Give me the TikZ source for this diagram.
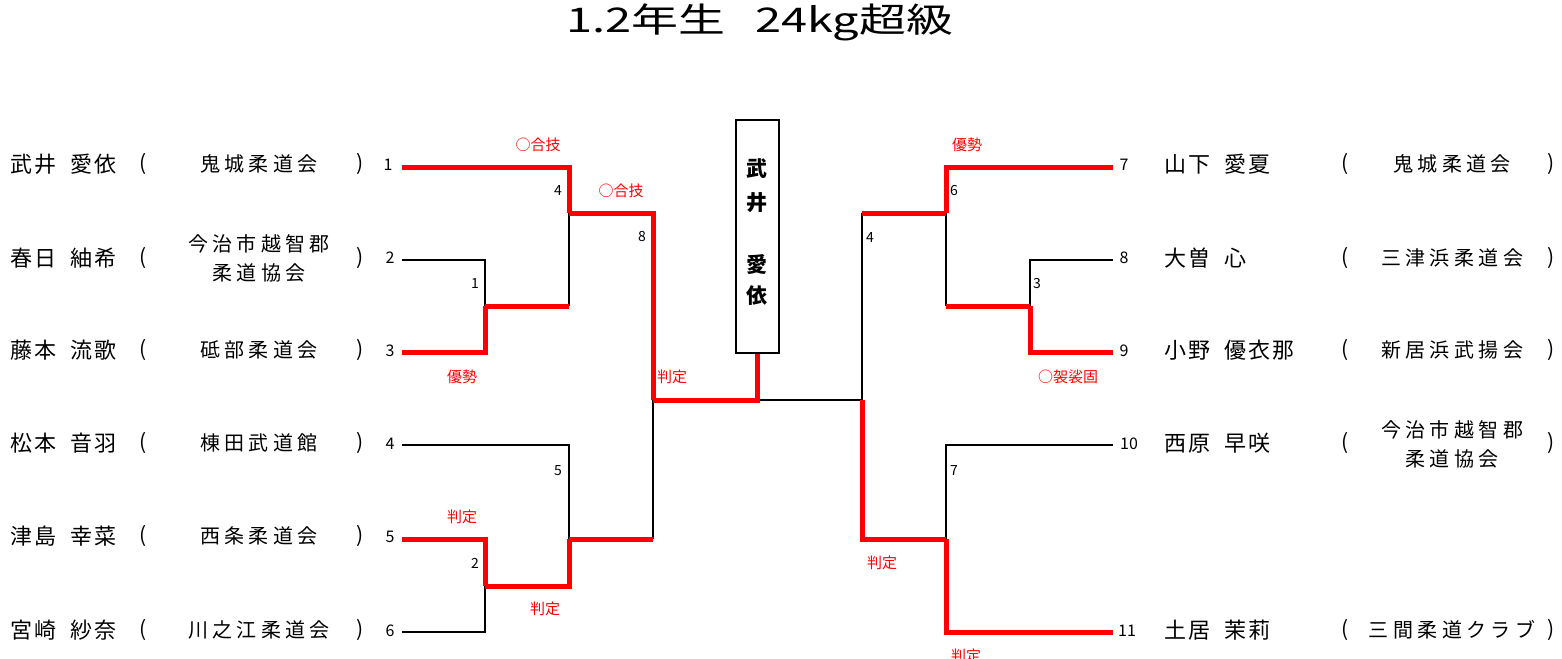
\documentclass[tikz,border=0pt]{standalone}
\usepackage{fontspec}
\setmainfont{Noto Sans CJK JP}
\newfontfamily\spaced[LetterSpace=10]{Noto Sans CJK JP}
\newfontfamily\clubfont[LetterSpace=22]{Noto Sans CJK JP}
\begin{document}
\begin{tikzpicture}[x=1pt,y=-1pt,
  pname/.style={anchor=west,inner sep=0,font=\fontsize{22}{22}\spaced},
  club/.style={align=center,inner sep=0,font=\fontsize{20}{29}\clubfont},
  paren/.style={inner sep=0,font=\fontsize{21}{21}\selectfont},
  pnum/.style={inner sep=0,font=\fontsize{16}{16}\selectfont},
  mnum/.style={inner sep=0,font=\fontsize{14}{14}\selectfont},
  resl/.style={inner sep=0,text=red,font=\fontsize{15}{15}\selectfont},
  win/.style={draw=red,line width=5pt,line join=miter},
  lose/.style={draw=black,line width=1.3pt},
  boxch/.style={inner sep=0,font=\fontsize{21}{21}\bfseries}]
\useasboundingbox (0,0) rectangle (1562,658);
% title
\node[inner sep=0,font=\fontsize{34}{34}\selectfont,xscale=1.38] (title) at (760,22) {1.2年生\hspace{14pt} 24kg超級};
% coordinates
\coordinate (P1) at (402,167);
\coordinate (P2) at (402,260);
\coordinate (P3) at (402,352);
\coordinate (P4) at (402,445);
\coordinate (P5) at (402,539);
\coordinate (P6) at (402,632);
\coordinate (J1) at (485,306);
\coordinate (J2) at (485,586);
\coordinate (J4) at (569,213);
\coordinate (J5) at (569,539);
\coordinate (J8) at (653,400);
\coordinate (Q7) at (1113,167);
\coordinate (Q8) at (1113,260);
\coordinate (Q9) at (1113,352);
\coordinate (Q10) at (1113,445);
\coordinate (Q11) at (1113,632);
\coordinate (K3) at (1030,306);
\coordinate (K6) at (946,213);
\coordinate (K7) at (946,539);
\coordinate (K4) at (862,400);
% winner box
\node[draw,line width=1.3pt,minimum width=43,minimum height=233,inner sep=0] (box) at (757.5,236.5) {};
\node[boxch] (w1) at (757,169) {武};
\node[boxch] (w2) at (757,203) {井};
\node[boxch] (w3) at (757,265) {愛};
\node[boxch] (w4) at (757,296) {依};
% left players
\node[pname] (nm1) at (10,164) {武井\hspace{14pt}愛依};
\node[pname] (nm2) at (10,258) {春日\hspace{14pt}紬希};
\node[pname] (nm3) at (10,350) {藤本\hspace{14pt}流歌};
\node[pname] (nm4) at (10,443) {松本\hspace{14pt}音羽};
\node[pname] (nm5) at (10,536) {津島\hspace{14pt}幸菜};
\node[pname] (nm6) at (10,630) {宮崎\hspace{14pt}紗奈};
\foreach \i/\y in {1/164,2/258,3/350,4/443,5/536,6/630}{
  \node[paren] (lo\i) at (143,\y) {(};
  \node[paren] (lc\i) at (360,\y) {)};
}
\node[club] (cl1) at (259,164) {鬼城柔道会};
\node[club] (cl2) at (259,258) {今治市越智郡\\柔道協会};
\node[club] (cl3) at (259,350) {砥部柔道会};
\node[club] (cl4) at (259,443) {棟田武道館};
\node[club] (cl5) at (259,536) {西条柔道会};
\node[club] (cl6) at (259,630) {川之江柔道会};
% right players
\node[pname] (nm7) at (1164,164) {山下\hspace{14pt}愛夏};
\node[pname] (nm8) at (1164,258) {大曽\hspace{14pt}心};
\node[pname] (nm9) at (1164,350) {小野\hspace{14pt}優衣那};
\node[pname] (nm10) at (1164,443) {西原\hspace{14pt}早咲};
\node[pname] (nm11) at (1164,630) {土居\hspace{14pt}茉莉};
\foreach \i/\y in {7/164,8/258,9/350,10/443,11/630}{
  \node[paren] (ro\i) at (1345,\y) {(};
  \node[paren] (rc\i) at (1551,\y) {)};
}
\node[club] (cl7) at (1452,164) {鬼城柔道会};
\node[club] (cl8) at (1452,258) {三津浜柔道会};
\node[club] (cl9) at (1452,350) {新居浜武揚会};
\node[club] (cl10) at (1452,444) {今治市越智郡\\柔道協会};
\node[club] (cl11) at (1452,630) {三間柔道クラブ};
% player numbers
\node[pnum] (n1) at (388,165) {1};
\node[pnum] (n2) at (390,258) {2};
\node[pnum] (n3) at (390,351) {3};
\node[pnum] (n4) at (390,444) {4};
\node[pnum] (n5) at (390,537) {5};
\node[pnum] (n6) at (390,631) {6};
\node[pnum] (n7) at (1124,165) {7};
\node[pnum] (n8) at (1124,258) {8};
\node[pnum] (n9) at (1124,351) {9};
\node[pnum] (n10) at (1129,444) {10};
\node[pnum] (n11) at (1127,631) {11};
% match numbers
\node[mnum] (m1) at (475,284) {1};
\node[mnum] (m2) at (475,563) {2};
\node[mnum] (m4) at (558,191) {4};
\node[mnum] (m5) at (558,471) {5};
\node[mnum] (m8) at (642,237) {8};
\node[mnum] (m6) at (954,191) {6};
\node[mnum] (m3) at (1037,284) {3};
\node[mnum] (m4r) at (870,238) {4};
\node[mnum] (m7) at (954,471) {7};
% results
\node[resl] (r1) at (538,145) {○合技};
\node[resl] (r2) at (621,191) {○合技};
\node[resl] (r3) at (462,377) {優勢};
\node[resl] (r4) at (672,377) {判定};
\node[resl] (r5) at (462,517) {判定};
\node[resl] (r6) at (545,609) {判定};
\node[resl] (r7) at (967,145) {優勢};
\node[resl] (r8) at (1068,377) {○袈裟固};
\node[resl] (r9) at (882,563) {判定};
\node[resl] (r10) at (966,656) {判定};
% losing lines
\draw[lose] (P2) -| (J1);
\draw[lose] (J1 -| J4) -- (J4);
\draw[lose] (P4) -| (J5);
\draw[lose] (P6) -| (J2);
\draw[lose] (J5 -| J8) -- (J8);
\draw[lose] (box.south |- J8) -- (K4);
\draw[lose] (K6 -| K4) -- (K4);
\draw[lose] (Q8) -| (K3);
\draw[lose] (K3 -| K6) -- (K6);
\draw[lose] (Q10) -| (K7);
% winning lines
\draw[win] (P3) -| (J1);
\draw[win] (J1) -- (J1 -| J4);
\draw[win] (P1) -| (J4);
\draw[win] (J4) -| (J8);
\draw[win] (P5) -| (J2);
\draw[win] (J2) -| (J5);
\draw[win] (J5) -- (J5 -| J8);
\draw[win] (J8) -| (box.south);
\draw[win] (Q7) -| (K6);
\draw[win] (K6) -- (K6 -| K4);
\draw[win] (Q9) -| (K3);
\draw[win] (K3) -- (K3 -| K6);
\draw[win] (K4) |- (K7);
\draw[win] (K7) |- (Q11);
\end{tikzpicture}
\end{document}
